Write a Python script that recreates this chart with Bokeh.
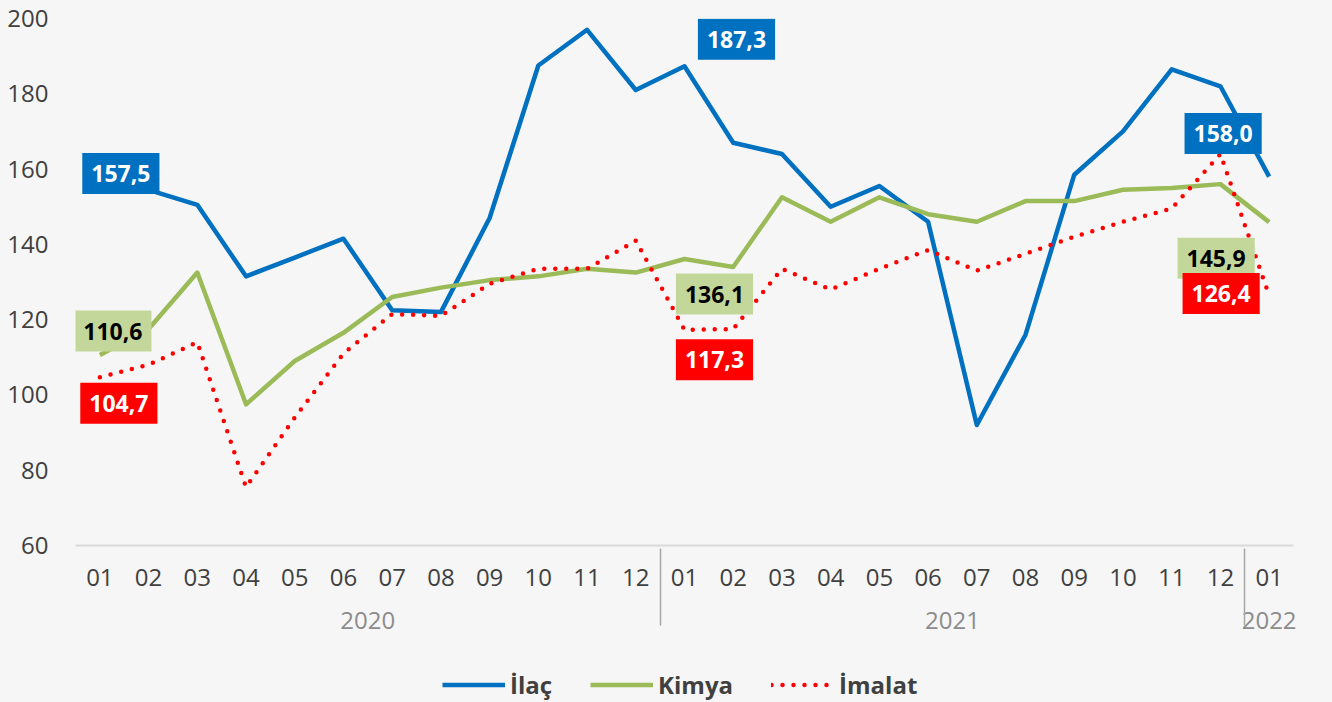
from bokeh.plotting import figure
from bokeh.models import FactorRange, ColumnDataSource, Legend, LegendItem, Range1d, FixedTicker
from bokeh.layouts import column
from bokeh.core.properties import value
from bokeh.embed import file_html
from bokeh.resources import INLINE

# ---------------- data ----------------
years = ["2020"] * 12 + ["2021"] * 12 + ["2022"]
months = ["01", "02", "03", "04", "05", "06", "07", "08", "09", "10", "11", "12",
          "01", "02", "03", "04", "05", "06", "07", "08", "09", "10", "11", "12",
          "01"]
ilac = [157.5, 154.5, 150.5, 131.5, 136.5, 141.5, 122.5, 122.0, 147.0, 187.5, 197.0, 181.0,
        187.3, 167.0, 164.0, 150.0, 155.5, 146.0, 92.0, 116.0, 158.5, 170.0, 186.5, 182.0,
        158.0]
kimya = [110.6, 117.5, 132.5, 97.5, 109.0, 116.5, 126.0, 128.5, 130.5, 131.5, 133.5, 132.5,
         136.1, 134.0, 152.5, 146.0, 152.5, 148.0, 146.0, 151.5, 151.5, 154.5, 155.0, 156.0,
         145.9]
imalat = [104.7, 108.0, 114.0, 75.5, 94.0, 111.0, 121.5, 121.0, 129.5, 133.5, 133.5, 141.0,
          117.3, 117.5, 133.5, 128.0, 133.5, 138.5, 133.0, 137.5, 142.0, 146.0, 149.5, 164.0,
          126.4]
series_names = ["İlaç", "Kimya", "İmalat"]
y_ticks = [60, 80, 100, 120, 140, 160, 180, 200]
labelled_idx = [0, 12, 24]          # points that carry a value label

# ---------------- styles ----------------
BG = "#f6f6f6"
COLORS = ["#0070c0", "#9bbb59", "#ff0000"]
LABEL_BG = ["#0070c0", "#c4d79b", "#ff0000"]
LABEL_TC = ["white", "black", "white"]
# screen offsets (px) of each value label box from its point, per series, per labelled point
LABEL_OFFSETS = [
    [(21, -5), (52, -27), (-46, -43)],
    [(13, -24), (30, 35), (-53, 36)],
    [(19, 26), (30, 30), (-48, -2)],
]

factors = list(zip(years, months))
series = [ilac, kimya, imalat]


def add_lines(fig, visible=True):
    out = []
    for i, vals in enumerate(series):
        src = ColumnDataSource(dict(x=factors, y=vals))
        if i == 2:
            r = fig.line("x", "y", source=src, line_color=COLORS[i], line_width=4.5,
                         line_dash="0 11", line_cap="round")
        else:
            r = fig.line("x", "y", source=src, line_color=COLORS[i], line_width=4.5,
                         line_join="round")
        r.visible = visible
        out.append(r)
    return out


# ---------------- main chart ----------------
p = figure(width=1332, height=666,
           x_range=FactorRange(*factors, factor_padding=0, group_padding=0, range_padding=0),
           y_range=Range1d(60, 200),
           output_backend="svg", toolbar_location=None,
           min_border_left=75, min_border_right=39, min_border_top=18, min_border_bottom=121,
           background_fill_color=BG, border_fill_color=BG, outline_line_color=None)

p.xgrid.grid_line_color = None
p.ygrid.grid_line_color = None

p.yaxis.ticker = FixedTicker(ticks=y_ticks)
p.yaxis.axis_line_color = None
p.yaxis.major_tick_line_color = None
p.yaxis.minor_tick_line_color = None
p.yaxis.major_tick_out = 0
p.yaxis.major_label_standoff = 27
p.yaxis.major_label_text_font = "Open Sans"
p.yaxis.major_label_text_font_size = "24px"
p.yaxis.major_label_text_color = "#404040"

p.xaxis.axis_line_color = "#d9d9d9"
p.xaxis.axis_line_width = 2
p.xaxis.major_tick_line_color = None
p.xaxis.minor_tick_line_color = None
p.xaxis.major_tick_out = 0
p.xaxis.major_label_standoff = 23
p.xaxis.major_label_text_font = "Open Sans"
p.xaxis.major_label_text_font_size = "24px"
p.xaxis.major_label_text_color = "#404040"
p.xaxis.group_text_font = "Open Sans"
p.xaxis.group_text_font_size = "24px"
p.xaxis.group_text_font_style = "normal"
p.xaxis.group_text_color = "#8c8c8c"
p.xaxis.separator_line_color = "#a6a6a6"
p.xaxis.separator_line_width = 1.5

add_lines(p)

# value labels
for i, vals in enumerate(series):
    lx, ly, lt, dx, dy = [], [], [], [], []
    for k, idx in enumerate(labelled_idx):
        lx.append(factors[idx])
        ly.append(vals[idx])
        lt.append(f"{vals[idx]:.1f}".replace(".", ","))
        dx.append(LABEL_OFFSETS[i][k][0])
        dy.append(LABEL_OFFSETS[i][k][1])
    src = ColumnDataSource(dict(x=lx, y=ly, text=lt, dx=dx, dy=dy))
    p.text(x="x", y="y", text="text", x_offset="dx", y_offset="dy", source=src,
           text_font=value("Open Sans"), text_font_size="23px", text_font_style="bold",
           text_color=LABEL_TC[i], background_fill_color=LABEL_BG[i],
           text_align="center", text_baseline="middle", padding=dict(x=9, y=12))

# ---------------- legend strip ----------------
lf = figure(width=1332, height=36, x_range=p.x_range, y_range=Range1d(0, 1),
            x_axis_type=None, y_axis_type=None, output_backend="svg", toolbar_location=None,
            min_border=0, background_fill_color=BG, border_fill_color=BG, outline_line_color=None)
lf.xgrid.grid_line_color = None
lf.ygrid.grid_line_color = None
leg_renderers = add_lines(lf, visible=False)
legend = Legend(items=[LegendItem(label=n, renderers=[r]) for n, r in zip(series_names, leg_renderers)],
                orientation="horizontal", location=(367, 1), padding=0, margin=0,
                spacing=38, glyph_width=63, glyph_height=29, label_standoff=5,
                label_text_font="Open Sans", label_text_font_size="24px",
                label_text_font_style="bold", label_text_color="#404040",
                background_fill_alpha=0, border_line_color=None)
lf.add_layout(legend)

layout = column(p, lf, spacing=0)
html = file_html(layout, INLINE)
html = html.replace("<head>", "<head><style>body{background:#f6f6f6;}</style>", 1)
open("out.html", "w").write(html)
